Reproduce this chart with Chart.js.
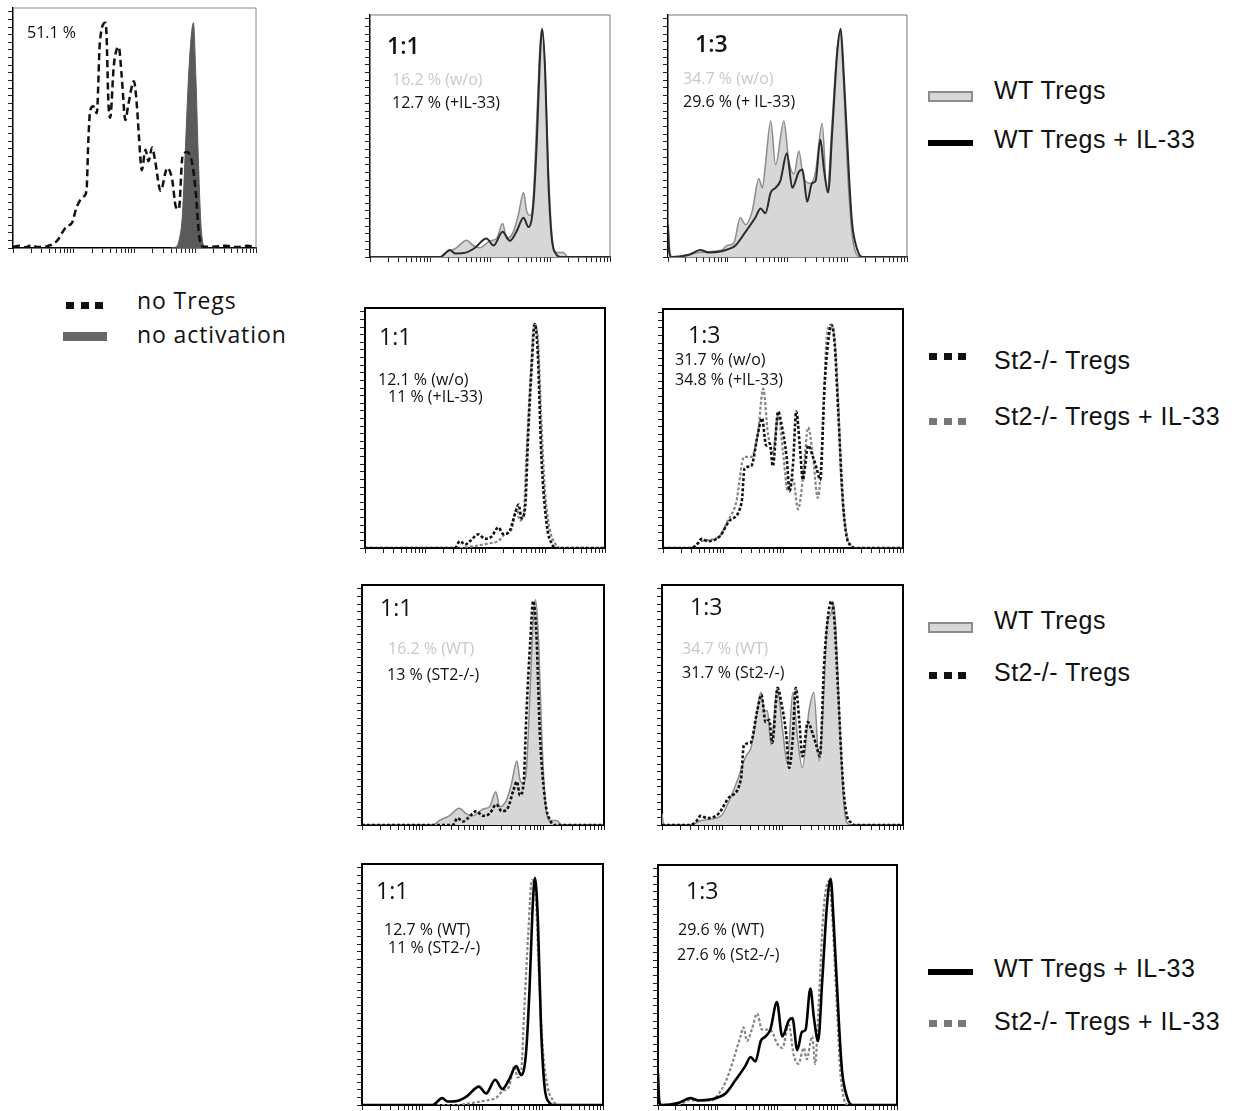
<!DOCTYPE html>
<html>
<head>
<meta charset="utf-8">
<script src="https://cdn.jsdelivr.net/npm/chart.js@4.4.1/dist/chart.umd.min.js"></script>
<style>
  body { margin: 0; background: #fff; }
  #page { position: relative; width: 1236px; height: 1111px; overflow: hidden; background: #fff; }
  canvas { position: absolute; }
  .t { position: absolute; white-space: nowrap; line-height: 1; }
  .sw { position: absolute; box-sizing: border-box; }
</style>
</head>
<body>
<div id="page"></div>
<script>
// x = position in decades (1..5 on the log axis), y = % of max
const noTregs = [[1.0,0.5],[1.1,1],[1.2,0.3],[1.3,1.2],[1.4,0.4],[1.55,0.7],[1.72,3],[1.88,9.4],[1.97,11],[2.05,18],[2.16,22.5],[2.21,25],[2.24,47],[2.27,60],[2.32,62],[2.38,59],[2.43,90],[2.52,98.5],[2.54,93],[2.57,64],[2.60,57],[2.66,80],[2.74,88],[2.79,75],[2.85,56],[2.90,63],[2.99,73],[3.04,62],[3.07,50],[3.12,34],[3.18,43],[3.23,38],[3.29,44],[3.34,38],[3.43,25],[3.54,35],[3.62,30],[3.68,18],[3.73,17],[3.79,40],[3.87,42],[3.95,37],[4.01,24],[4.06,6.5],[4.12,0.7],[4.3,0.5],[4.5,1],[4.7,0.4],[4.85,1],[5.0,0.3]];
const noActivation = [[3.6,0],[3.68,0.5],[3.73,3],[3.79,15],[3.84,45],[3.90,80],[3.97,98.5],[4.01,75],[4.05,40],[4.09,12],[4.14,1],[4.2,0]];

const wt11 = [[1,0],[2.17,0],[2.28,2],[2.44,4],[2.61,7.3],[2.72,5],[2.83,4],[3.0,7],[3.11,8],[3.21,14.5],[3.28,8],[3.39,11],[3.47,18],[3.56,28],[3.61,20],[3.67,18],[3.72,25],[3.78,60],[3.83,90],[3.87,98.5],[3.92,80],[3.97,40],[4.03,10],[4.11,2],[4.22,2],[4.3,0],[5,0]];
const wtIL11 = [[1,0],[2.17,0],[2.33,3],[2.42,1.5],[2.61,2],[2.75,4],[2.94,8],[3.06,5],[3.21,11],[3.33,7],[3.44,11],[3.56,17],[3.64,13],[3.72,22],[3.78,50],[3.83,85],[3.87,99],[3.92,80],[3.97,35],[4.03,8],[4.11,1],[4.17,0],[5,0]];
const wt13 = [[1,14],[1.03,3],[1.06,0],[1.35,1],[1.51,2],[1.9,3],[1.99,5],[2.1,6],[2.21,17],[2.3,14],[2.41,20],[2.52,34],[2.58,30],[2.63,40],[2.72,59],[2.8,40],[2.94,59],[3.02,42],[3.11,36],[3.19,46],[3.27,34],[3.39,32],[3.47,37],[3.58,58],[3.66,28],[3.75,60],[3.83,90],[3.88,98],[3.94,75],[4.0,40],[4.08,10],[4.14,2],[4.22,0],[5,0]];
const wtIL13 = [[1,14],[1.02,2],[1.06,0],[1.35,1],[1.54,3],[1.68,2],[1.9,2.5],[2.02,3.5],[2.13,5],[2.3,11],[2.46,17],[2.55,21],[2.63,19],[2.72,28],[2.8,30],[2.88,33],[2.99,45],[3.08,30],[3.19,37],[3.25,38],[3.33,24],[3.41,32],[3.47,33],[3.55,51],[3.61,38],[3.68,28],[3.75,55],[3.83,88],[3.89,99],[3.94,80],[4.03,35],[4.08,15],[4.17,3],[4.25,0],[5,0]];

const st11 = [[1,0],[2.5,0],[2.58,3],[2.67,1.5],[2.75,3],[2.89,6],[3.0,4],[3.11,5],[3.22,9],[3.31,6],[3.42,8],[3.5,15],[3.56,19],[3.61,13],[3.67,18],[3.72,50],[3.78,80],[3.83,98],[3.88,85],[3.94,40],[4.03,10],[4.11,2],[4.19,0],[5,0]];
const stIL11 = [[1,0],[2.61,0],[2.72,0.5],[2.86,1],[3.06,2],[3.22,3],[3.33,6],[3.44,8],[3.53,17],[3.58,12],[3.64,14],[3.69,40],[3.76,75],[3.82,98],[3.88,92],[3.94,55],[4.0,25],[4.08,8],[4.17,2],[4.25,0],[5,0]];
const st13 = [[1,0],[1.47,0],[1.58,2],[1.64,4],[1.75,3],[1.94,5],[2.11,12],[2.31,20],[2.36,35],[2.47,36],[2.58,50],[2.65,57],[2.72,45],[2.78,46],[2.83,36],[2.92,60],[2.97,55],[3.06,40],[3.11,25],[3.17,38],[3.22,60],[3.28,45],[3.33,30],[3.42,45],[3.5,40],[3.56,35],[3.62,30],[3.69,70],[3.75,90],[3.81,98],[3.86,90],[3.92,60],[4.0,20],[4.06,5],[4.14,1],[4.19,0],[5,0]];
const stIL13 = [[1,0],[1.47,0],[1.64,3],[1.94,5],[2.08,12],[2.22,20],[2.35,40],[2.47,40],[2.58,50],[2.67,70],[2.75,50],[2.83,42],[2.92,58],[3.0,42],[3.08,25],[3.17,30],[3.25,17],[3.33,30],[3.42,53],[3.5,40],[3.58,22],[3.67,55],[3.72,90],[3.79,98],[3.86,92],[3.92,65],[3.97,30],[4.06,6],[4.14,1],[4.19,0],[5,0]];

// second readings where the panel shows a visibly different trace
const wt13b = [[1,5],[1.03,0],[1.48,0],[1.65,2],[1.98,4],[2.12,11],[2.23,18],[2.39,30],[2.48,34],[2.56,46],[2.64,58],[2.7,50],[2.75,50],[2.81,35],[2.91,60],[3.0,42],[3.08,27],[3.17,58],[3.25,38],[3.33,25],[3.44,50],[3.52,58],[3.61,28],[3.69,60],[3.74,88],[3.8,92],[3.85,97],[3.91,72],[3.96,38],[4.02,9],[4.07,1],[4.13,0],[5,0]];
const stIL13b = [[1,0],[1.35,0],[1.51,2],[1.9,2],[1.99,4],[2.13,10],[2.24,18],[2.38,30],[2.43,34],[2.49,28],[2.57,33],[2.66,40],[2.74,33],[2.82,33],[2.91,32],[2.99,27],[3.08,25],[3.19,35],[3.27,22],[3.35,18],[3.44,25],[3.49,20],[3.58,30],[3.63,18],[3.69,45],[3.77,85],[3.86,98],[3.91,85],[4.0,40],[4.05,15],[4.11,3],[4.19,0],[5,0]];

const styles = {
  dash:      { borderColor: '#111', borderWidth: 2.5, borderDash: [7, 4], fill: false },
  fillDark:  { borderColor: '#5a5a5a', backgroundColor: '#5a5a5a', borderWidth: 1, fill: 'origin' },
  fillGray:  { borderColor: '#8c8c8c', backgroundColor: '#d7d7d7', borderWidth: 1.5, fill: 'origin' },
  solid:     { borderColor: '#2b2b2b', borderWidth: 2, fill: false },
  solidBold: { borderColor: '#000', borderWidth: 2.6, fill: false },
  dotBlack:  { borderColor: '#111', borderWidth: 2.6, borderDash: [3, 2], fill: false },
  dotGray:   { borderColor: '#858585', borderWidth: 2.2, borderDash: [3, 2], fill: false }
};

// chart area [left, top, right, bottom] in page pixels; first set is drawn on top
const panels = [
  { area: [13, 8, 256, 248],   frame: '#8a8a8a', fw: 1, sets: [[noTregs, 'dash'], [noActivation, 'fillDark']] },
  { area: [370, 15, 610, 257], frame: '#777',    fw: 1, sets: [[wtIL11, 'solid'], [wt11, 'fillGray']] },
  { area: [668, 15, 907, 257], frame: '#777',    fw: 1, sets: [[wtIL13, 'solid'], [wt13, 'fillGray']] },
  { area: [365, 308, 605, 548], frame: '#000',   fw: 2, sets: [[st11, 'dotBlack'], [stIL11, 'dotGray']] },
  { area: [663, 309, 903, 548], frame: '#000',   fw: 2, sets: [[st13, 'dotBlack'], [stIL13, 'dotGray']] },
  { area: [362, 585, 604, 825], frame: '#000',   fw: 2, sets: [[st11, 'dotBlack'], [wt11, 'fillGray']] },
  { area: [662, 585, 903, 825], frame: '#000',   fw: 2, sets: [[st13, 'dotBlack'], [wt13b, 'fillGray']] },
  { area: [362, 864, 603, 1105], frame: '#000',  fw: 2, sets: [[wtIL11, 'solidBold'], [stIL11, 'dotGray']] },
  { area: [658, 865, 897, 1105], frame: '#000',  fw: 2, sets: [[wtIL13, 'solidBold'], [stIL13b, 'dotGray']] }
];

// [text, x, baseline, size, colour, weight]
const notes = [
  ['51.1 %', 27, 38, 16, '#111', 400],
  ['1:1', 387, 54, 23, '#111', 600],
  ['16.2 % (w/o)', 392, 85, 16, '#c8c8c8', 400],
  ['12.7 % (+IL-33)', 392, 108, 16, '#111', 400],
  ['1:3', 695, 52, 23, '#111', 600],
  ['34.7 % (w/o)', 683, 84, 16, '#c8c8c8', 400],
  ['29.6 % (+ IL-33)', 683, 107, 16, '#111', 400],
  ['1:1', 379, 345, 23, '#111', 400],
  ['12.1 % (w/o)', 378, 385, 16, '#111', 400],
  ['11 % (+IL-33)', 388, 402, 16, '#111', 400],
  ['1:3', 688, 343, 23, '#111', 400],
  ['31.7 % (w/o)', 675, 365, 16, '#111', 400],
  ['34.8 % (+IL-33)', 675, 385, 16, '#111', 400],
  ['1:1', 380, 616, 23, '#111', 400],
  ['16.2 % (WT)', 388, 654, 16, '#c8c8c8', 400],
  ['13 % (ST2-/-)', 387, 680, 16, '#111', 400],
  ['1:3', 690, 615, 23, '#111', 400],
  ['34.7 % (WT)', 682, 654, 16, '#c8c8c8', 400],
  ['31.7 % (St2-/-)', 682, 678, 16, '#111', 400],
  ['1:1', 376, 899, 23, '#111', 400],
  ['12.7 % (WT)', 384, 935, 16, '#111', 400],
  ['11 % (ST2-/-)', 388, 953, 16, '#111', 400],
  ['1:3', 686, 899, 23, '#111', 400],
  ['29.6 % (WT)', 678, 935, 16, '#111', 400],
  ['27.6 % (St2-/-)', 677, 960, 16, '#111', 400]
];

// legend entries: [label, x, baseline, font]
const legendTexts = [
  ['no Tregs', 137, 309, 'os'],
  ['no activation', 137, 343, 'os'],
  ['WT Tregs', 994, 99, 'ar'],
  ['WT Tregs + IL-33', 994, 148, 'ar'],
  ['St2-/- Tregs', 994, 369, 'ar'],
  ['St2-/- Tregs + IL-33', 994, 425, 'ar'],
  ['WT Tregs', 994, 629, 'ar'],
  ['St2-/- Tregs', 994, 681, 'ar'],
  ['WT Tregs + IL-33', 994, 977, 'ar'],
  ['St2-/- Tregs + IL-33', 994, 1030, 'ar']
];

const page = document.getElementById('page');
const TICK = 5, PAD = 3;

// log-style ticks: 1..9 x 10^n for the four decades
const xTicks = [];
for (let n = 1; n <= 4; n++) for (let k = 1; k <= 9; k++) xTicks.push(n + Math.log10(k));
xTicks.push(5);
const yTicks = [];
for (let i = 0; i <= 31; i++) yTicks.push(i * 20 / 6);

const framePlugin = {
  id: 'frame',
  afterDraw(chart, args, opts) {
    const { ctx, chartArea: a } = chart;
    ctx.save();
    ctx.strokeStyle = opts.color;
    ctx.lineWidth = opts.width;
    ctx.beginPath();
    ctx.moveTo(a.left, a.top);
    ctx.lineTo(a.right, a.top);
    ctx.lineTo(a.right, a.bottom);
    ctx.stroke();
    ctx.restore();
  }
};

panels.forEach((p) => {
  const [L, T, R, B] = p.area;
  const cv = document.createElement('canvas');
  const w = R - L + TICK + 2 * PAD, h = B - T + TICK + 2 * PAD;
  cv.width = w; cv.height = h;
  cv.style.left = (L - TICK - PAD) + 'px';
  cv.style.top = (T - PAD) + 'px';
  cv.style.width = w + 'px'; cv.style.height = h + 'px';
  page.appendChild(cv);

  const axisW = p.fw === 1 ? 1.5 : 2;
  const grid = { display: true, drawOnChartArea: false, drawTicks: true, tickLength: TICK, color: '#222', lineWidth: 1 };

  new Chart(cv.getContext('2d'), {
    type: 'line',
    data: {
      datasets: p.sets.map(([d, s]) => Object.assign({ data: d, pointRadius: 0, cubicInterpolationMode: 'monotone' }, styles[s]))
    },
    options: {
      responsive: false,
      animation: false,
      devicePixelRatio: 1,
      layout: { padding: PAD },
      scales: {
        x: {
          type: 'linear', min: 1, max: 5,
          afterBuildTicks: (ax) => { ax.ticks = xTicks.map((v) => ({ value: v })); },
          ticks: { display: false },
          grid: grid,
          border: { display: true, color: '#000', width: axisW }
        },
        y: {
          type: 'linear', min: 0, max: 105,
          afterBuildTicks: (ax) => { ax.ticks = yTicks.map((v) => ({ value: v })); },
          ticks: { display: false },
          grid: grid,
          border: { display: true, color: '#000', width: axisW }
        }
      },
      plugins: {
        legend: { display: false },
        tooltip: { enabled: false },
        frame: { color: p.frame, width: p.fw }
      }
    },
    plugins: [framePlugin]
  });
});

function addText(s, x, baseline, size, family, color, weight) {
  const d = document.createElement('div');
  d.className = 't';
  d.textContent = s;
  const k = family === 'ar' ? 0.8465 : 0.888;
  d.style.left = x + 'px';
  d.style.top = (baseline - k * size) + 'px';
  d.style.fontSize = size + 'px';
  d.style.fontFamily = family === 'ar' ? '"Liberation Sans", Arial, sans-serif' : '"Open Sans", sans-serif';
  d.style.color = color;
  d.style.fontWeight = weight;
  page.appendChild(d);
  return d;
}

notes.forEach(([s, x, b, size, c, wgt]) => addText(s, x, b, size, 'os', c, wgt));
legendTexts.forEach(([s, x, b, f]) => {
  const d = addText(s, x, b, f === 'ar' ? 25 : 23, f, '#111', 400);
  d.style.letterSpacing = f === 'os' ? '0.9px' : '0.5px';
});

function swatch(x, y, w, h, bg, border) {
  const d = document.createElement('div');
  d.className = 'sw';
  Object.assign(d.style, { left: x + 'px', top: y + 'px', width: w + 'px', height: h + 'px', background: bg });
  if (border) d.style.border = border;
  page.appendChild(d);
}
function squares(x, y, color) {
  [0, 15, 29].forEach((dx) => swatch(x + dx, y, 8, 7, color));
}

squares(66, 302, '#111');
swatch(63, 332, 44, 9, '#666');
swatch(928, 91, 45, 11, '#d7d7d7', '2px solid #8c8c8c');
swatch(928, 140, 45, 6, '#000');
squares(929, 353, '#111');
squares(929, 418, '#777');
swatch(928, 622, 45, 11, '#d7d7d7', '2px solid #8c8c8c');
squares(929, 672, '#111');
swatch(928, 969, 45, 6, '#000');
squares(929, 1020, '#777');
</script>
</body>
</html>
